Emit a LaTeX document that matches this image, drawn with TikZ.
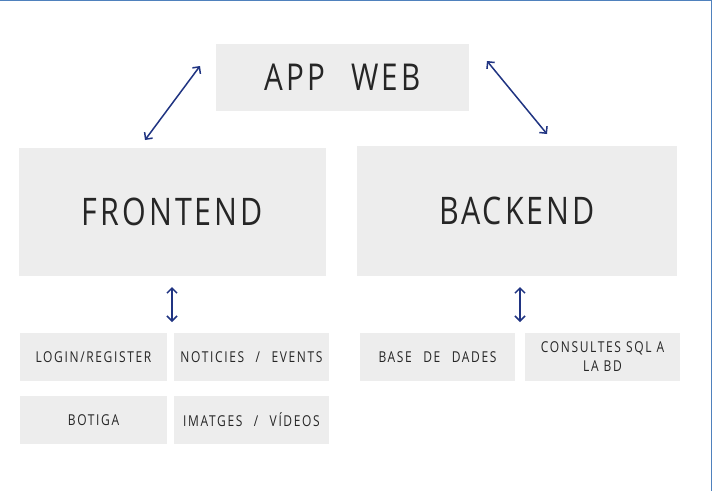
\documentclass[tikz,border=0pt]{standalone}
\usepackage{fontspec}
\setmainfont{Open Sans}[FakeStretch=0.8,LetterSpace=8,WordSpace=2.5]
\newfontfamily\smallfam{Open Sans}[FakeStretch=0.8,LetterSpace=11,WordSpace=2.4]
\usetikzlibrary{arrows.meta}
\definecolor{boxgray}{RGB}{237,237,237}
\definecolor{arrowblue}{RGB}{32,52,130}
\definecolor{framblue}{RGB}{79,129,189}
\begin{document}
\begin{tikzpicture}[x=1pt,y=-1pt,
  box/.style={fill=boxgray, draw=none, inner sep=0pt, align=center, text=black!85},
  big/.style={box, font=\fontsize{37}{40}\selectfont},
  huge/.style={box, font=\fontsize{38}{44}\selectfont},
  small/.style={box, font=\smallfam\fontsize{15}{19}\selectfont, minimum width=150pt, minimum height=48pt},
  link/.style={draw=arrowblue, line width=1.5pt, {Straight Barb[length=5pt,width=10pt]}-{Straight Barb[length=5pt,width=10pt]}}]
\useasboundingbox (0,0) rectangle (713,491);
\fill[white] (0,0) rectangle (713,491);
\draw[framblue, line width=1.5pt] (0,0.7) -- (711.3,0.7) -- (711.3,491);
\node[big, minimum width=253pt, minimum height=67pt] (app) at (342.5,77.5) {APP WEB};
\node[huge, minimum width=307pt, minimum height=128pt] (front) at (172.5,212) {FRONTEND};
\node[huge, minimum width=320pt, minimum height=130pt] (back) at (517,211) {BACKEND};
\node[small, minimum width=147pt] (login) at (93.5,357) {LOGIN/REGISTER};
\node[small, minimum width=155pt] (news) at (251.5,357) {NOTICIES / EVENTS};
\node[small, minimum width=147pt] (shop) at (93.5,420) {BOTIGA};
\node[small, minimum width=155pt] (media) at (251.5,420) {IMATGES / VÍDEOS};
\node[small, minimum width=155pt] (db) at (437.5,357) {BASE DE DADES};
\node[small, minimum width=155pt, text width=150pt] (sql) at (602.5,357) {CONSULTES SQL A\\LA BD};
\coordinate (l1) at (145,140);
\coordinate (l2) at (200,66);
\coordinate (r1) at (487,61);
\coordinate (r2) at (547,134);
\coordinate (f1) at (172,287);
\coordinate (f2) at (172,322);
\coordinate (b1) at (520,287);
\coordinate (b2) at (520,322);
\draw[link] (l1) -- (l2);
\draw[link] (r1) -- (r2);
\draw[link] (f1) -- (f2);
\draw[link] (b1) -- (b2);
\end{tikzpicture}
\end{document}
